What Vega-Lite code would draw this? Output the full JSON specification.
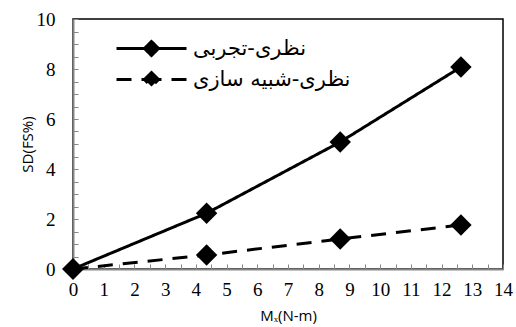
{
  "$schema": "https://vega.github.io/schema/vega-lite/v6.json",
  "width": 430,
  "height": 250,
  "autosize": {"type": "none"},
  "padding": {"left": 73, "top": 19, "right": 13, "bottom": 58},
  "background": "white",
  "config": {
    "view": {"stroke": "black", "strokeWidth": 1.5},
    "axis": {
      "grid": false,
      "domainColor": "#868686",
      "domainWidth": 2,
      "tickColor": "#868686",
      "tickWidth": 1,
      "tickSize": -5,
      "labelColor": "black",
      "labelOverlap": false,
      "labelFlush": false,
      "titleFontWeight": "normal",
      "titleColor": "black"
    },
    "legend": {
      "symbolFillColor": "black",
      "symbolStrokeColor": "black"
    }
  },
  "data": {
    "values": [
      {"series": "نظری-تجربی", "mx": 0, "sd": 0},
      {"series": "نظری-تجربی", "mx": 4.35, "sd": 2.23},
      {"series": "نظری-تجربی", "mx": 8.7, "sd": 5.08},
      {"series": "نظری-تجربی", "mx": 12.63, "sd": 8.08},
      {"series": "نظری-شبیه سازی", "mx": 0, "sd": 0},
      {"series": "نظری-شبیه سازی", "mx": 4.35, "sd": 0.56},
      {"series": "نظری-شبیه سازی", "mx": 8.7, "sd": 1.2},
      {"series": "نظری-شبیه سازی", "mx": 12.63, "sd": 1.76}
    ]
  },
  "encoding": {
    "x": {
      "field": "mx",
      "type": "quantitative",
      "scale": {"domain": [0, 14], "nice": false, "zero": false},
      "axis": {
        "title": "Mₓ(N-m)",
        "titleFont": "Open Sans",
        "titleFontSize": 15,
        "labelFont": "Liberation Serif",
        "labelFontSize": 19,
        "values": [0,0.5,1,1.5,2,2.5,3,3.5,4,4.5,5,5.5,6,6.5,7,7.5,8,8.5,9,9.5,10,10.5,11,11.5,12,12.5,13,13.5,14],
        "labelExpr": "datum.value % 1 === 0 ? format(datum.value, 'd') : ''",
        "labelPadding": 16,
        "titlePadding": 9
      }
    },
    "y": {
      "field": "sd",
      "type": "quantitative",
      "scale": {"domain": [0, 10], "nice": false, "zero": false},
      "axis": {
        "title": "SD(FS%)",
        "titleFont": "Open Sans",
        "titleFontSize": 15,
        "labelFont": "Liberation Serif",
        "labelFontSize": 19,
        "values": [0,0.5,1,1.5,2,2.5,3,3.5,4,4.5,5,5.5,6,6.5,7,7.5,8,8.5,9,9.5,10],
        "labelExpr": "datum.value % 2 === 0 ? format(datum.value, 'd') : ''",
        "labelPadding": 23,
        "titlePadding": 1
      }
    }
  },
  "layer": [
    {
      "mark": {"type": "line", "color": "black", "strokeWidth": 3},
      "encoding": {
        "strokeDash": {
          "field": "series",
          "type": "nominal",
          "scale": {
            "domain": ["نظری-تجربی", "نظری-شبیه سازی"],
            "range": [[1, 0], [15, 10]]
          },
          "legend": {
            "title": null,
            "orient": "none",
            "legendX": 67,
            "legendY": 18,
            "symbolType": "M-3.5,0H-0.7 M3.5,0H0.7 M0,-0.7L0.7,0L0,0.7L-0.7,0Z",
            "symbolSize": 400,
            "symbolFillColor": "black",
            "symbolStrokeColor": "black",
            "symbolStrokeWidth": 3,
            "symbolOpacity": 1,
            "labelOffset": 30,
            "labelFont": "DejaVu Sans",
            "labelFontSize": 21,
            "labelColor": "black",
            "labelLimit": 300,
            "rowPadding": 4
          }
        }
      }
    },
    {
      "mark": {"type": "point", "shape": "diamond", "filled": true, "color": "black", "opacity": 1, "size": 460},
      "encoding": {"detail": {"field": "series", "type": "nominal"}}
    }
  ]
}
